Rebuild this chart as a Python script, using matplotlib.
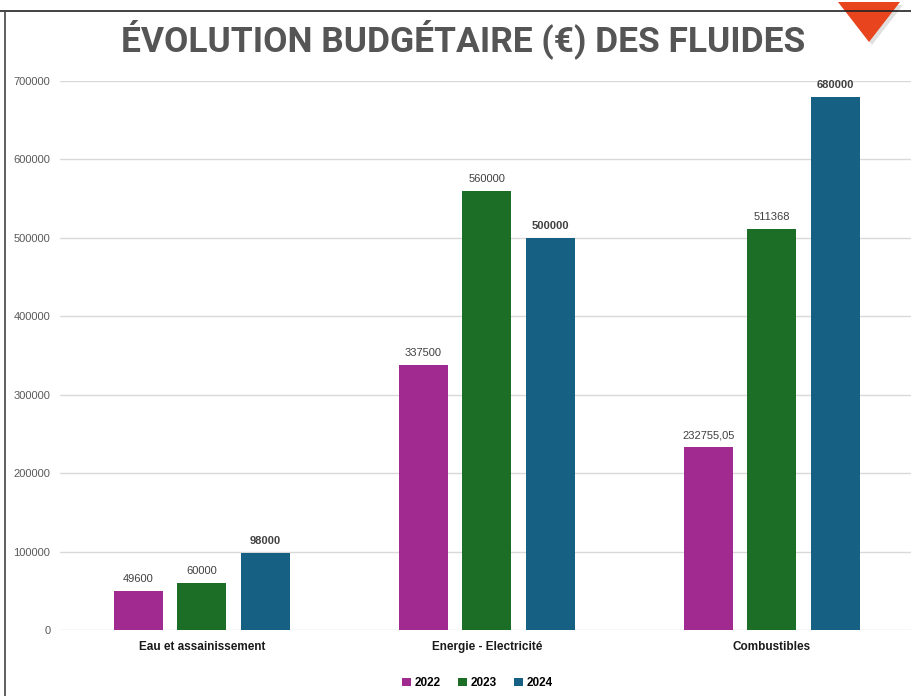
import numpy as np
import matplotlib.pyplot as plt
from matplotlib.patches import Polygon
from matplotlib.lines import Line2D

categories = ['Eau et assainissement', 'Energie - Electricité', 'Combustibles']
years = ['2022', '2023', '2024']
v2022 = [49600, 337500, 232755.05]
v2023 = [60000, 560000, 511368]
v2024 = [98000, 500000, 680000]
labels2022 = ['49600', '337500', '232755,05']
labels2023 = ['60000', '560000', '511368']
labels2024 = ['98000', '500000', '680000']
colors = ['#A02A90', '#1C6E27', '#166083']

plt.rcParams['font.family'] = ['Liberation Sans', 'DejaVu Sans']

fig = plt.figure(figsize=(9.11, 6.96), dpi=100)
ax = fig.add_axes([60 / 911, 1 - 630 / 696, 851 / 911, 549 / 696])

x = np.arange(len(categories))
w = 0.172
off = 0.223
series = [(v2022, labels2022, False), (v2023, labels2023, False), (v2024, labels2024, True)]
for i, (vals, labs, bold) in enumerate(series):
    bars = ax.bar(x + (i - 1) * off, vals, w, color=colors[i], label=years[i], zorder=3)
    for b, lab in zip(bars, labs):
        ax.text(b.get_x() + b.get_width() / 2, b.get_height() + 9000, lab,
                ha='center', va='bottom', fontsize=8, color='#404040',
                fontweight='bold' if bold else 'normal')

ax.set_ylim(0, 700000)
ax.set_xlim(-0.498, 2.488)
ax.set_yticks(range(0, 700001, 100000))
ax.set_yticklabels([str(t) for t in range(0, 700001, 100000)], fontsize=8, color='#595959')
ax.set_xticks(x)
ax.set_xticklabels(categories, fontsize=8.5, fontweight='bold', color='#1a1a1a')
ax.tick_params(length=0, pad=8)
ax.tick_params(axis='y', pad=7)
ax.grid(axis='y', color='#d9d9d9', linewidth=1, zorder=0)
for s in ax.spines.values():
    s.set_visible(False)

leg = fig.legend(loc='center', bbox_to_anchor=(0.524, 1 - 683 / 696), ncol=3, frameon=False,
                 handlelength=0.75, handleheight=0.75, handletextpad=0.3, columnspacing=1.5,
                 prop={'weight': 'bold', 'size': 8.5})

fig.text(0.508, 1 - 39 / 696, 'ÉVOLUTION BUDGÉTAIRE (€) DES FLUIDES', ha='center', va='center',
         fontsize=25.5, fontweight='bold', color='#555555', family=['Roboto', 'DejaVu Sans'])

# frame lines
fig.add_artist(Line2D([0, 1], [1 - 11 / 696, 1 - 11 / 696], color='#222222', lw=1.2,
                      transform=fig.transFigure))
fig.add_artist(Line2D([5 / 911, 5 / 911], [0, 1 - 11 / 696], color='#444444', lw=1.2,
                      transform=fig.transFigure))

# orange marker triangle with soft shadow
tri = [(838, 2), (900, 2), (869, 42)]
shadow = [(px + 3, py + 3) for px, py in tri]
fig.add_artist(Polygon([(px / 911, 1 - py / 696) for px, py in shadow], closed=True,
                       facecolor='#000000', alpha=0.12, edgecolor='none', transform=fig.transFigure))
fig.add_artist(Polygon([(px / 911, 1 - py / 696) for px, py in tri], closed=True,
                       facecolor='#E8441E', edgecolor='none', transform=fig.transFigure))

fig.savefig('out.png', dpi=100)
